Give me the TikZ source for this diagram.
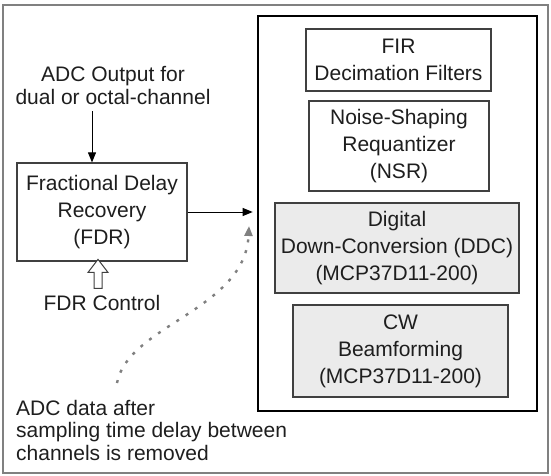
\documentclass[tikz,border=0pt]{standalone}
\usepackage{fontspec}
\setmainfont{Liberation Sans}
\usepackage{tikz}
\usetikzlibrary{positioning, arrows.meta, shapes.arrows}
\definecolor{boxline}{RGB}{64,64,64}
\definecolor{boxgray}{RGB}{235,235,235}
\definecolor{txtdark}{RGB}{30,30,30}

\begin{document}
\begin{tikzpicture}[x=1pt, y=-1pt,
  % align=center is required in all node styles to allow \\ line breaks
  blockbox/.style={rectangle, draw=boxline, line width=1.2pt, fill=#1,
                   align=center, inner sep=0pt, text=txtdark,
                   font=\fontsize{21}{27}\selectfont},
  blockbox/.default=white,
  dspframe/.style={rectangle, draw=black, line width=2.6pt,
                   minimum width=279pt, minimum height=395pt},
  plaintext/.style={align=center, inner sep=0pt, text=txtdark,
                    font=\fontsize{21}{23}\selectfont},
  arr/.style={-{Triangle[length=10pt, width=8pt]}, line width=1pt, draw=black},
  dotarr/.style={-{Triangle[length=10pt, width=8pt]}, line width=2.4pt,
                 draw=gray, dash pattern=on 3pt off 8pt},
  hollowarr/.style={single arrow, draw=boxline, line width=1pt, fill=white,
                    shape border rotate=90, inner sep=3.5pt,
                    single arrow head extend=6pt, single arrow tip angle=75,
                    minimum height=29pt}
]
\useasboundingbox (0,0) rectangle (551,476);

% Outer frame
\draw[gray, line width=1.4pt] (3,5) rectangle (548,473);

% Inner block
\node[dspframe] (dsp) at (397.5, 213.5) {};

\node[blockbox, minimum width=185pt, minimum height=62pt] (fir) at (398.5, 60)
    {FIR\\Decimation Filters};
\node[blockbox, minimum width=180pt, minimum height=90pt] (nsr) at (399, 146)
    {Noise-Shaping\\Requantizer\\(NSR)};
\node[blockbox=boxgray, minimum width=244pt, minimum height=90pt] (ddc) at (397, 248)
    {Digital\\Down-Conversion (DDC)\\(MCP37D11-200)};
\node[blockbox=boxgray, minimum width=215pt, minimum height=92pt] (cw) at (400.5, 351)
    {CW\\Beamforming\\(MCP37D11-200)};

% Fractional delay recovery
\node[blockbox, minimum width=170pt, minimum height=98pt] (fdr) at (102, 212)
    {Fractional Delay\\Recovery\\(FDR)};

\node[plaintext] (adcin) at (113, 86) {ADC Output for\\dual or octal-channel};
\node[plaintext] (ctrl) at (102, 303) {FDR Control};
\node[plaintext, align=left, anchor=west, font=\fontsize{21}{22.5}\selectfont]
    (note) at (16, 430)
    {ADC data after\\sampling time delay between\\channels is removed};

\node[hollowarr] (ctrlarr) at (98, 276.5) {};

% Arrows
\draw[arr] ([xshift=-10pt]fdr.north |- adcin.south) ++(0,6) -- ([xshift=-10pt]fdr.north);
\draw[arr, shorten >=4pt] (fdr.east) -- (fdr.east -| dsp.west);
\coordinate (notestart) at (117, 383);
\coordinate (dotend) at (249, 226);
\draw[dotarr] (notestart) .. controls (128, 325) and (245, 310) .. (dotend);

\end{tikzpicture}
\end{document}
